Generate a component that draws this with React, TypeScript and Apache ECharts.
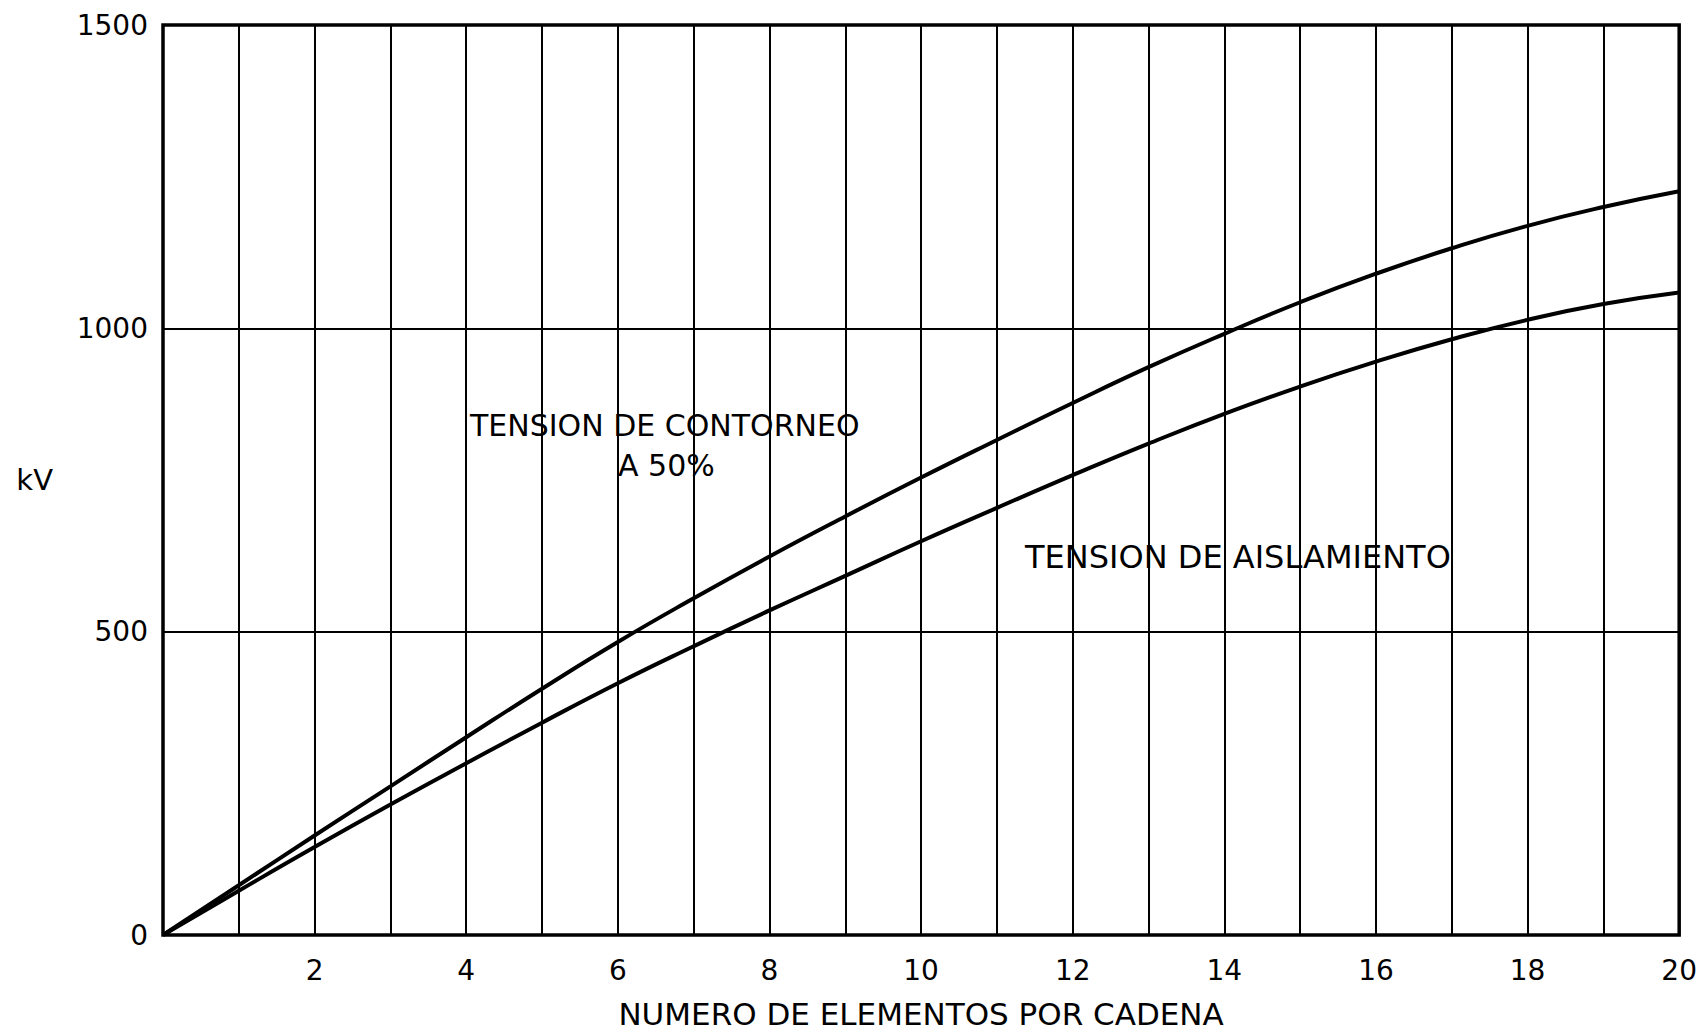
import React, { useEffect, useRef } from "react";
import * as echarts from "echarts";

const elements = [0, 1, 2, 3, 4, 5, 6, 7, 8, 9, 10, 11, 12, 13, 14, 15, 16, 17, 18, 19, 20];
const contorneo = [0, 82, 164, 245, 326, 406, 483, 555, 624, 690, 754, 816, 877, 936, 991, 1043, 1090, 1132, 1169, 1200, 1226];
const aislamiento = [0, 73, 145, 215, 283, 350, 415, 476, 535, 592, 649, 704, 758, 810, 859, 904, 945, 982, 1014, 1040, 1059];
const xTickLabels = ["2", "4", "6", "8", "10", "12", "14", "16", "18", "20"];
const yTickLabels = ["0", "500", "1000", "1500"];

const FONT = "DejaVu Sans";

export default function App() {
  const ref = useRef<HTMLDivElement>(null);
  useEffect(() => {
    if (!ref.current) return;
    const chart = echarts.init(ref.current, undefined, { renderer: "svg" });
    const lineStyle = { color: "#000", width: 4 };
    chart.setOption({
      animation: false,
      backgroundColor: "#fff",
      grid: {
        left: 163,
        right: 18,
        top: 25,
        bottom: 94,
        show: true,
        borderColor: "#000",
        borderWidth: 3.5,
      },
      xAxis: {
        type: "value",
        min: 0,
        max: 20,
        interval: 1,
        axisLine: { show: false },
        axisTick: { show: false },
        splitLine: { show: true, lineStyle: { color: "#000", width: 2 } },
        axisLabel: {
          color: "#000",
          fontFamily: FONT,
          fontSize: 28,
          margin: 21,
          formatter: (v: number) => (xTickLabels.includes(String(v)) ? String(v) : ""),
        },
        name: "NUMERO DE ELEMENTOS POR CADENA",
        nameLocation: "middle",
        nameGap: 63,
        nameTextStyle: { color: "#000", fontFamily: FONT, fontSize: 31 },
      },
      yAxis: {
        type: "value",
        min: 0,
        max: 1500,
        interval: 500,
        axisLine: { show: false },
        axisTick: { show: false },
        splitLine: { show: true, lineStyle: { color: "#000", width: 2 } },
        axisLabel: {
          color: "#000",
          fontFamily: FONT,
          fontSize: 28,
          margin: 15,
          formatter: (v: number) => (yTickLabels.includes(String(v)) ? String(v) : ""),
        },
        name: "kV",
        nameLocation: "middle",
        nameRotate: 0,
        nameGap: 110,
        nameTextStyle: {
          color: "#000",
          fontFamily: FONT,
          fontSize: 29,
          padding: [0, 0, 36, 0],
        },
      },
      series: [
        {
          name: "TENSION DE CONTORNEO A 50%",
          type: "line",
          smooth: true,
          showSymbol: false,
          lineStyle,
          data: elements.map((x, i) => [x, contorneo[i]]),
        },
        {
          name: "TENSION DE AISLAMIENTO",
          type: "line",
          smooth: true,
          showSymbol: false,
          lineStyle,
          data: elements.map((x, i) => [x, aislamiento[i]]),
        },
      ],
      graphic: [
        {
          type: "text",
          left: 470,
          top: 410,
          style: { text: "TENSION DE CONTORNEO", fill: "#000", font: `30px "${FONT}"` },
        },
        {
          type: "text",
          left: 618,
          top: 450,
          style: { text: "A 50%", fill: "#000", font: `30px "${FONT}"` },
        },
        {
          type: "text",
          left: 1025,
          top: 541,
          style: { text: "TENSION DE AISLAMIENTO", fill: "#000", font: `32px "${FONT}"` },
        },
      ],
    });
    return () => chart.dispose();
  }, []);
  return (
    <div
      ref={ref}
      style={{ position: "fixed", left: 0, top: 0, width: 1700, height: 1034 }}
    />
  );
}
